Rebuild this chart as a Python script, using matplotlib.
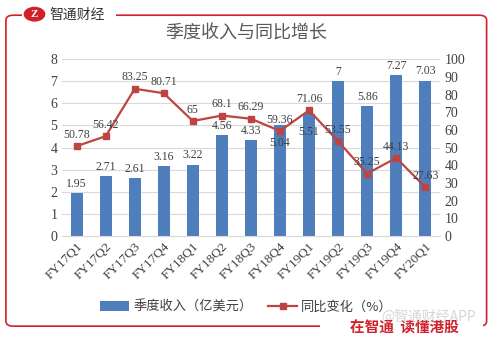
import matplotlib.pyplot as plt
from matplotlib.patches import FancyBboxPatch, Circle

plt.rcParams['font.family'] = ['Liberation Serif', 'Noto Sans CJK SC']

quarters = ['FY17Q1', 'FY17Q2', 'FY17Q3', 'FY17Q4', 'FY18Q1', 'FY18Q2', 'FY18Q3',
            'FY18Q4', 'FY19Q1', 'FY19Q2', 'FY19Q3', 'FY19Q4', 'FY20Q1']
revenue = [1.95, 2.71, 2.61, 3.16, 3.22, 4.56, 4.33, 5.04, 5.51, 7, 5.86, 7.27, 7.03]
yoy = [50.78, 56.42, 83.25, 80.71, 65, 68.1, 66.29, 59.36, 71.06, 53.55, 35.25, 44.13, 27.63]
# bar labels that sit inside the bar in the original
inside = ['FY18Q4', 'FY19Q1']

bar_color = '#4F7EBD'
line_color = '#BE4442'
txt = '#404040'
cjk = ['Noto Sans CJK SC', 'DejaVu Sans']

fig = plt.figure(figsize=(4.93, 3.38), dpi=100)
ax = fig.add_axes([0.126, 0.302, 0.766, 0.523])
x = list(range(len(quarters)))
ax.bar(x, revenue, width=0.42, color=bar_color, zorder=2, label='季度收入（亿美元）')
for xi, q, v in zip(x, quarters, revenue):
    if q in inside:
        ax.text(xi, v - 0.55, f'{v:g}', ha='center', va='top', fontsize=8.5, color=txt, zorder=5)
    else:
        ax.text(xi, v + 0.15, f'{v:g}', ha='center', va='bottom', fontsize=8.5, color=txt)
ax.set_ylim(0, 8)
ax.set_xlim(-0.5, len(quarters) - 0.5)
ax.set_yticks(range(0, 9))
ax.grid(axis='y', color='#D9D9D9', linewidth=0.8, zorder=0)
ax.set_axisbelow(True)
for s in ax.spines.values():
    s.set_visible(False)
ax.spines['bottom'].set_visible(True)
ax.spines['bottom'].set_color('#D9D9D9')
ax.tick_params(length=0, labelsize=10, colors=txt)
ax.set_xticks(x)
ax.set_xticklabels(quarters, rotation=45, ha='right', rotation_mode='anchor', fontsize=9.5)

ax2 = ax.twinx()
ax2.plot(x, yoy, color=line_color, marker='s', markersize=4, linewidth=1.6, label='同比变化（%）')
for xi, v in zip(x, yoy):
    ax2.text(xi, v + 3, f'{v:g}', ha='center', va='bottom', fontsize=8.5, color=txt)
ax2.set_ylim(0, 100)
ax2.set_yticks(range(0, 101, 10))
for s in ax2.spines.values():
    s.set_visible(False)
ax2.tick_params(length=0, labelsize=10, colors=txt)

h1, l1 = ax.get_legend_handles_labels()
h2, l2 = ax2.get_legend_handles_labels()
fig.legend(h1 + h2, l1 + l2, loc='center', bbox_to_anchor=(0.5, 0.092), ncol=2,
           frameon=False, prop={'family': cjk, 'size': 9.5}, labelcolor=txt,
           handlelength=2.2, columnspacing=1.2, handletextpad=0.3)

fig.text(0.5, 0.9, '季度收入与同比增长', ha='center', va='center', fontsize=13,
         color='#595959', family=cjk)

# red frame
frame = FancyBboxPatch((0.012, 0.035), 0.975, 0.92, boxstyle='round,pad=0,rounding_size=0.015',
                       transform=fig.transFigure, fill=False, edgecolor='#D0202A', linewidth=1.2)
fig.patches.append(frame)
# logo
fig.patches.append(FancyBboxPatch((0.045, 0.92), 0.19, 0.07, boxstyle='square,pad=0',
                                  transform=fig.transFigure, facecolor='white', edgecolor='none'))
fig.patches.append(Circle((0.07, 0.958), 0.022, transform=fig.transFigure,
                          facecolor='#D0202A', edgecolor='none'))
fig.text(0.07, 0.956, 'Z', ha='center', va='center', fontsize=8, color='white', weight='bold')
fig.text(0.1, 0.956, '智通财经', ha='left', va='center', fontsize=10, color='#333333', family=cjk)
fig.patches.append(FancyBboxPatch((0.65, 0.0), 0.33, 0.06, boxstyle='square,pad=0',
                                  transform=fig.transFigure, facecolor='white', edgecolor='none'))
fig.text(0.82, 0.03, '在智通  读懂港股', ha='center', va='center', fontsize=10.5,
         color='#D0202A', weight='bold', family=cjk)
fig.text(0.87, 0.063, '@智通财经APP', ha='center', va='center', fontsize=10,
         color='#BBBBBB', alpha=0.6, family=cjk)

fig.savefig('out.png', dpi=100)
